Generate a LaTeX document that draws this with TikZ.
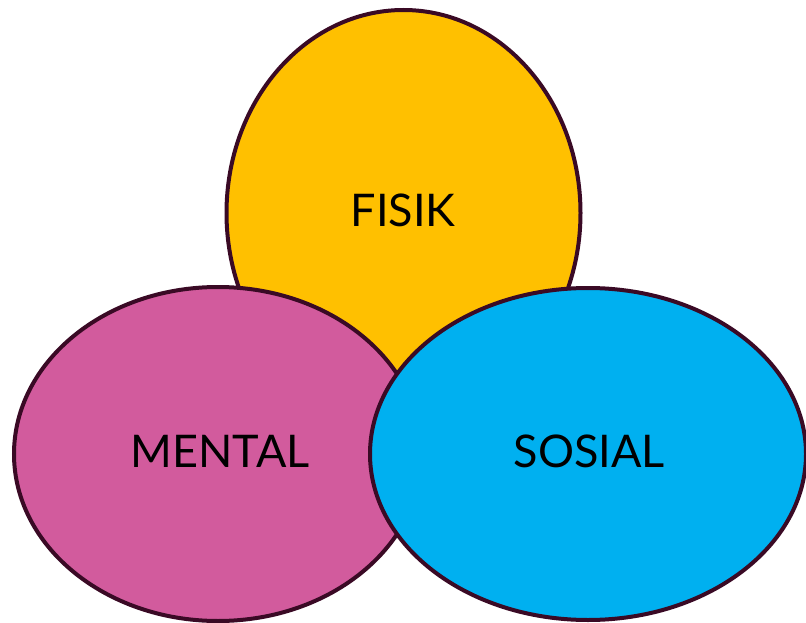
\documentclass[tikz,border=0pt]{standalone}
\usepackage{fontspec}
\setmainfont{Lato}
\definecolor{fisikc}{HTML}{FFC000}
\definecolor{mentalc}{HTML}{D25B9D}
\definecolor{sosialc}{HTML}{00B0F0}
\definecolor{edgec}{HTML}{3A0A25}
\begin{document}
\begin{tikzpicture}[x=1pt,y=-1pt,
  blob/.style={draw=edgec,line width=4pt},
  lab/.style={font=\fontsize{45}{50}\selectfont,text=black,inner sep=0pt}]
\useasboundingbox (0,0) rectangle (806,623);
\fill[white] (0,0) rectangle (806,623);
\path[blob,fill=fisikc] (403.5,213) ellipse [x radius=177,y radius=203];
\path[blob,fill=mentalc] (218,454) ellipse [x radius=204,y radius=167];
\path[blob,fill=sosialc] (588,454) ellipse [x radius=218,y radius=166];
\node[lab,anchor=base] (fisik) at (403,226) {FISIK};
\node[lab,anchor=base] (mental) at (220,467) {MENTAL};
\node[lab,anchor=base] (sosial) at (589.5,467) {SOSIAL};
\end{tikzpicture}
\end{document}
